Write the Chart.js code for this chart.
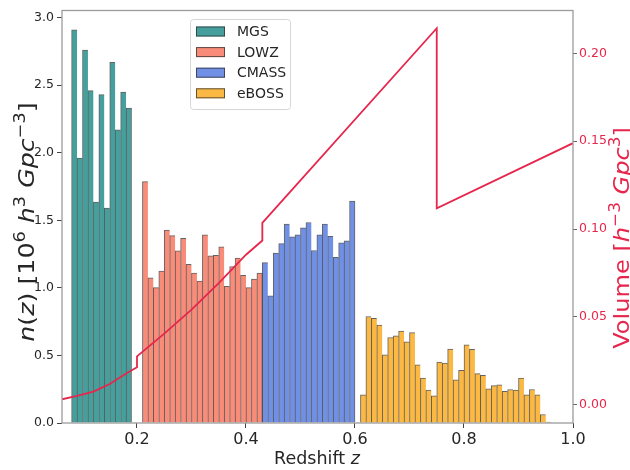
<!DOCTYPE html>
<html><head><meta charset="utf-8">
<script src="https://cdn.jsdelivr.net/npm/chart.js@4.4.1/dist/chart.umd.min.js"></script>
<style>html,body{margin:0;padding:0;background:#fff;}</style>
</head><body>
<canvas id="c" width="630" height="470"></canvas>
<script>
// ---- data ----
const surveyNames = ["MGS", "LOWZ", "CMASS", "eBOSS"];
const mgsZ = [0.085,0.095,0.105,0.115,0.125,0.135,0.145,0.155,0.165,0.175,0.185];
const mgsN = [2.91,1.96,2.76,2.46,1.635,2.43,1.59,2.67,2.17,2.45,2.33];
const lowzZ = [0.215,0.225,0.235,0.245,0.255,0.265,0.275,0.285,0.295,0.305,0.315,
               0.325,0.335,0.345,0.355,0.365,0.375,0.385,0.395,0.405,0.415,0.425];
const lowzN = [1.786,1.075,1.002,1.124,1.428,1.387,1.275,1.367,1.175,1.109,1.051,
               1.392,1.238,1.241,1.304,1.012,1.158,1.221,1.093,1.002,1.066,1.109];
const cmassZ = [0.435,0.445,0.455,0.465,0.475,0.485,0.495,0.505,0.515,0.525,0.535,
                0.545,0.555,0.565,0.575,0.585,0.595];
const cmassN = [1.187,0.942,1.258,1.328,1.472,1.377,1.392,1.445,1.484,1.277,1.392,
                1.472,1.382,1.226,1.333,1.348,1.642];
const ebossZ = [0.615,0.625,0.635,0.645,0.655,0.665,0.675,0.685,0.695,0.705,0.715,
                0.725,0.735,0.745,0.755,0.765,0.775,0.785,0.795,0.805,0.815,0.825,
                0.835,0.845,0.855,0.865,0.875,0.885,0.895,0.905,0.915,0.925,0.935,
                0.945,0.955];
const ebossN = [0.209,0.788,0.774,0.725,0.504,0.633,0.645,0.681,0.601,0.669,0.431,
                0.333,0.243,0.202,0.450,0.443,0.547,0.319,0.389,0.579,0.545,0.365,
                0.353,0.253,0.277,0.282,0.234,0.248,0.243,0.333,0.209,0.248,0.209,
                0.063,0.007];
const volZ = [0.0624,0.09,0.12,0.15,0.18,0.20,0.20,0.25,0.30,0.35,0.40,0.43,0.43,0.75,0.75,1.0];
const volV = [0.0031,0.0050,0.0075,0.0118,0.0178,0.0213,0.0275,0.0405,0.0541,0.0692,0.0854,0.0935,0.1035,0.2143,0.1118,0.1489];
const xTicks = [0.2,0.4,0.6,0.8,1.0];
const yTicks = [0.0,0.5,1.0,1.5,2.0,2.5,3.0];
const y2Ticks = [0.00,0.05,0.10,0.15,0.20];

// ---- styles ----
const FONT = '"DejaVu Sans", "Liberation Sans", sans-serif';
const EDGE = 'rgba(45,45,45,0.75)';
const COLORS = ['#45a09d', '#f98c78', '#7090e6', '#fbb842'];
const RED = '#e6264c';
const TXT = '#262626';

function barDs(label, zs, ns, color) {
  return {
    type: 'bar', label: label,
    data: zs.map((z, i) => ({x: z, y: ns[i]})),
    backgroundColor: color, borderColor: EDGE,
    borderWidth: ctx => ({left: 1, top: 1, bottom: 0, right: ctx.dataIndex === zs.length - 1 ? 1 : 0}),
    borderSkipped: false, barPercentage: 1, categoryPercentage: 1, grouped: false,
    xAxisID: 'x', yAxisID: 'y', order: 2
  };
}

function drawRich(ctx, segs, x, y, rot, size, color, sx) {
  ctx.save();
  ctx.translate(x, y);
  ctx.rotate(rot);
  ctx.scale(sx || 1, 1);
  ctx.fillStyle = color;
  ctx.textBaseline = 'alphabetic';
  ctx.textAlign = 'left';
  const fonts = segs.map(s => (s.i ? 'italic ' : '') + (s.s ? size * 0.7 : size) + 'px ' + FONT);
  let total = 0;
  const widths = segs.map((s, k) => { ctx.font = fonts[k]; const w = ctx.measureText(s.t).width; total += w; return w; });
  let cx = -total / 2;
  segs.forEach((s, k) => {
    ctx.font = fonts[k];
    ctx.fillText(s.t, cx, s.s ? -size * 0.42 : 0);
    cx += widths[k];
  });
  ctx.restore();
}

const decorPlugin = {
  id: 'decor',
  afterDatasetsDraw(chart) {
    const {ctx, chartArea: a} = chart;
    ctx.save();
    ctx.strokeStyle = '#9c9c9c';
    ctx.lineWidth = 1.3;
    ctx.strokeRect(a.left, a.top, a.right - a.left, a.bottom - a.top);
    ctx.restore();
  },
  afterDraw(chart) {
    const ctx = chart.ctx;
    // legend
    ctx.save();
    const lx = 190.5, ly = 19.5, lw = 100, lh = 90, r = 3;
    ctx.beginPath();
    ctx.moveTo(lx + r, ly); ctx.lineTo(lx + lw - r, ly); ctx.arcTo(lx + lw, ly, lx + lw, ly + r, r);
    ctx.lineTo(lx + lw, ly + lh - r); ctx.arcTo(lx + lw, ly + lh, lx + lw - r, ly + lh, r);
    ctx.lineTo(lx + r, ly + lh); ctx.arcTo(lx, ly + lh, lx, ly + lh - r, r);
    ctx.lineTo(lx, ly + r); ctx.arcTo(lx, ly, lx + r, ly, r);
    ctx.closePath();
    ctx.fillStyle = 'rgba(255,255,255,0.85)';
    ctx.fill();
    ctx.strokeStyle = '#d6d6d6';
    ctx.lineWidth = 1;
    ctx.stroke();
    surveyNames.forEach((name, i) => {
      const cy = 31.5 + 20.6 * i;
      ctx.fillStyle = COLORS[i];
      ctx.fillRect(196, cy - 5, 29, 10);
      ctx.strokeStyle = EDGE;
      ctx.strokeRect(196.5, cy - 4.5, 28, 9);
      ctx.fillStyle = TXT;
      ctx.font = '14px ' + FONT;
      ctx.textBaseline = 'middle';
      ctx.fillText(name, 237, cy + 1);
    });
    ctx.restore();
    // axis titles
    drawRich(ctx, [{t: 'Redshift '}, {t: 'z', i: true}], 317, 464, 0, 17.5, TXT, 1);
    drawRich(ctx, [{t: 'n', i: true}, {t: '('}, {t: 'z', i: true}, {t: ') [10'}, {t: '6', s: true},
                   {t: ' '}, {t: 'h', i: true}, {t: '3', s: true}, {t: ' '}, {t: 'Gpc', i: true},
                   {t: '\u22123', s: true}, {t: ']'}], 34, 222, -Math.PI / 2, 22, TXT, 1.15);
    drawRich(ctx, [{t: 'Volume ['}, {t: 'h', i: true}, {t: '\u22123', s: true}, {t: ' '},
                   {t: 'Gpc', i: true}, {t: '3', s: true}, {t: ']'}], 629, 238, -Math.PI / 2, 21.5, RED, 1.12);
  }
};

const datasets = [
  {
    type: 'line', label: 'Volume',
    data: volZ.map((z, i) => ({x: z, y: volV[i]})),
    borderColor: RED, borderWidth: 1.8, pointRadius: 0, tension: 0, fill: false,
    xAxisID: 'x', yAxisID: 'y1', order: 0
  },
  barDs(surveyNames[0], mgsZ, mgsN, COLORS[0]),
  barDs(surveyNames[1], lowzZ, lowzN, COLORS[1]),
  barDs(surveyNames[2], cmassZ, cmassN, COLORS[2]),
  barDs(surveyNames[3], ebossZ, ebossN, COLORS[3])
];

new Chart(document.getElementById('c'), {
  type: 'bar',
  data: {datasets: datasets},
  plugins: [decorPlugin],
  options: {
    responsive: false, animation: false, devicePixelRatio: 1, events: [],
    layout: {padding: {top: 5, left: 0, right: 0, bottom: 0}},
    plugins: {legend: {display: false}, tooltip: {enabled: false}, title: {display: false}},
    scales: {
      x: {
        type: 'linear', position: 'bottom', min: 0.0624, max: 1.0, bounds: 'data', offset: false,
        grid: {display: true, drawOnChartArea: false, drawTicks: true, tickLength: 5, tickColor: '#444', offset: false},
        border: {display: false},
        ticks: {font: {family: FONT, size: 16}, color: TXT, padding: 2, maxRotation: 0, autoSkip: false,
                callback: v => Number(v).toFixed(1)},
        afterBuildTicks: s => { s.ticks = xTicks.map(v => ({value: v})); },
        afterFit: s => { s.height = 47; }
      },
      y: {
        type: 'linear', position: 'left', min: 0, max: 3.053, bounds: 'data',
        grid: {display: true, drawOnChartArea: false, drawTicks: true, tickLength: 5, tickColor: '#444'},
        border: {display: false},
        ticks: {font: {family: FONT, size: 12.5}, color: TXT, padding: 3, autoSkip: false,
                callback: v => Number(v).toFixed(1)},
        afterBuildTicks: s => { s.ticks = yTicks.map(v => ({value: v})); },
        afterFit: s => { s.width = 62; }
      },
      y1: {
        type: 'linear', position: 'right', min: -0.0104, max: 0.2244, bounds: 'data',
        grid: {display: true, drawOnChartArea: false, drawTicks: true, tickLength: 4, tickColor: '#666'},
        border: {display: false},
        ticks: {font: {family: FONT, size: 12.5}, color: RED, padding: 2, autoSkip: false,
                callback: v => Number(v).toFixed(2)},
        afterBuildTicks: s => { s.ticks = y2Ticks.map(v => ({value: v})); },
        afterFit: s => { s.width = 57; }
      }
    }
  }
});
</script>
</body></html>
